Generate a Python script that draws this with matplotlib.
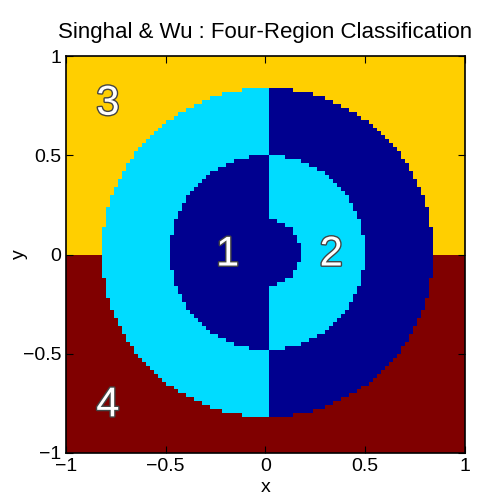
import numpy as np
import matplotlib.pyplot as plt
import matplotlib.patheffects as pe
from matplotlib.colors import ListedColormap

plt.rcParams['font.family'] = ['Liberation Sans', 'DejaVu Sans']
plt.rcParams['axes.unicode_minus'] = True

# region boundaries (radii) and grid spacing
r_core = 0.17
r_inner = 0.49
r_outer = 0.83
step = 0.02

class_colors = ['#00008f', '#00dcff', '#ffcf00', '#800000']
class_labels = ['1', '2', '3', '4']
label_x = [-0.19, 0.33, -0.79, -0.79]
label_y = [0.0, 0.0, 0.76, -0.76]
ticks = [-1, -0.5, 0, 0.5, 1]

# grid nodes; each cell takes the class of its lower-left node
edges = np.round(np.arange(-1, 1 + step / 2, step), 10)
nodes = edges[:-1]
X, Y = np.meshgrid(nodes, nodes)
R = np.hypot(X, Y)

cls = np.where(Y >= 0, 3, 4)
ring = (R >= r_inner) & (R < r_outer)
disk = R < r_inner
left = X <= 0
cls = np.where(ring & left, 2, cls)
cls = np.where(ring & ~left, 1, cls)
cls = np.where(disk & left, 1, cls)
cls = np.where(disk & ~left, 2, cls)
cls = np.where(R < r_core, 1, cls)

fig = plt.figure(figsize=(4.83, 4.98), dpi=100)
ax = fig.add_axes([0.1366, 0.0904, 0.826, 0.797])
ax.pcolormesh(edges, edges, cls, cmap=ListedColormap(class_colors),
              vmin=0.5, vmax=4.5, shading='flat')

for t, x, y in zip(class_labels, label_x, label_y):
    ax.text(x, y, t, color='white', fontsize=30, ha='center', va='center',
            path_effects=[pe.withStroke(linewidth=2, foreground='#444444')])

ax.set_xlim(-1, 1)
ax.set_ylim(-1, 1)
ax.set_xticks(ticks)
ax.set_yticks(ticks)
ax.set_xticklabels(['\u22121', '\u22120.5', '0', '0.5', '1'])
ax.set_yticklabels(['\u22121', '\u22120.5', '0', '0.5', '1'])
ax.tick_params(direction='in', top=True, right=True, labelsize=14, length=5)
for s in ax.spines.values():
    s.set_linewidth(1.2)
ax.set_xlabel('x', fontsize=14, labelpad=3)
ax.set_ylabel('y', fontsize=14, labelpad=-4)
ax.set_title('Singhal & Wu : Four-Region Classification', fontsize=16, pad=13)

fig.savefig('out.png', dpi=100)
